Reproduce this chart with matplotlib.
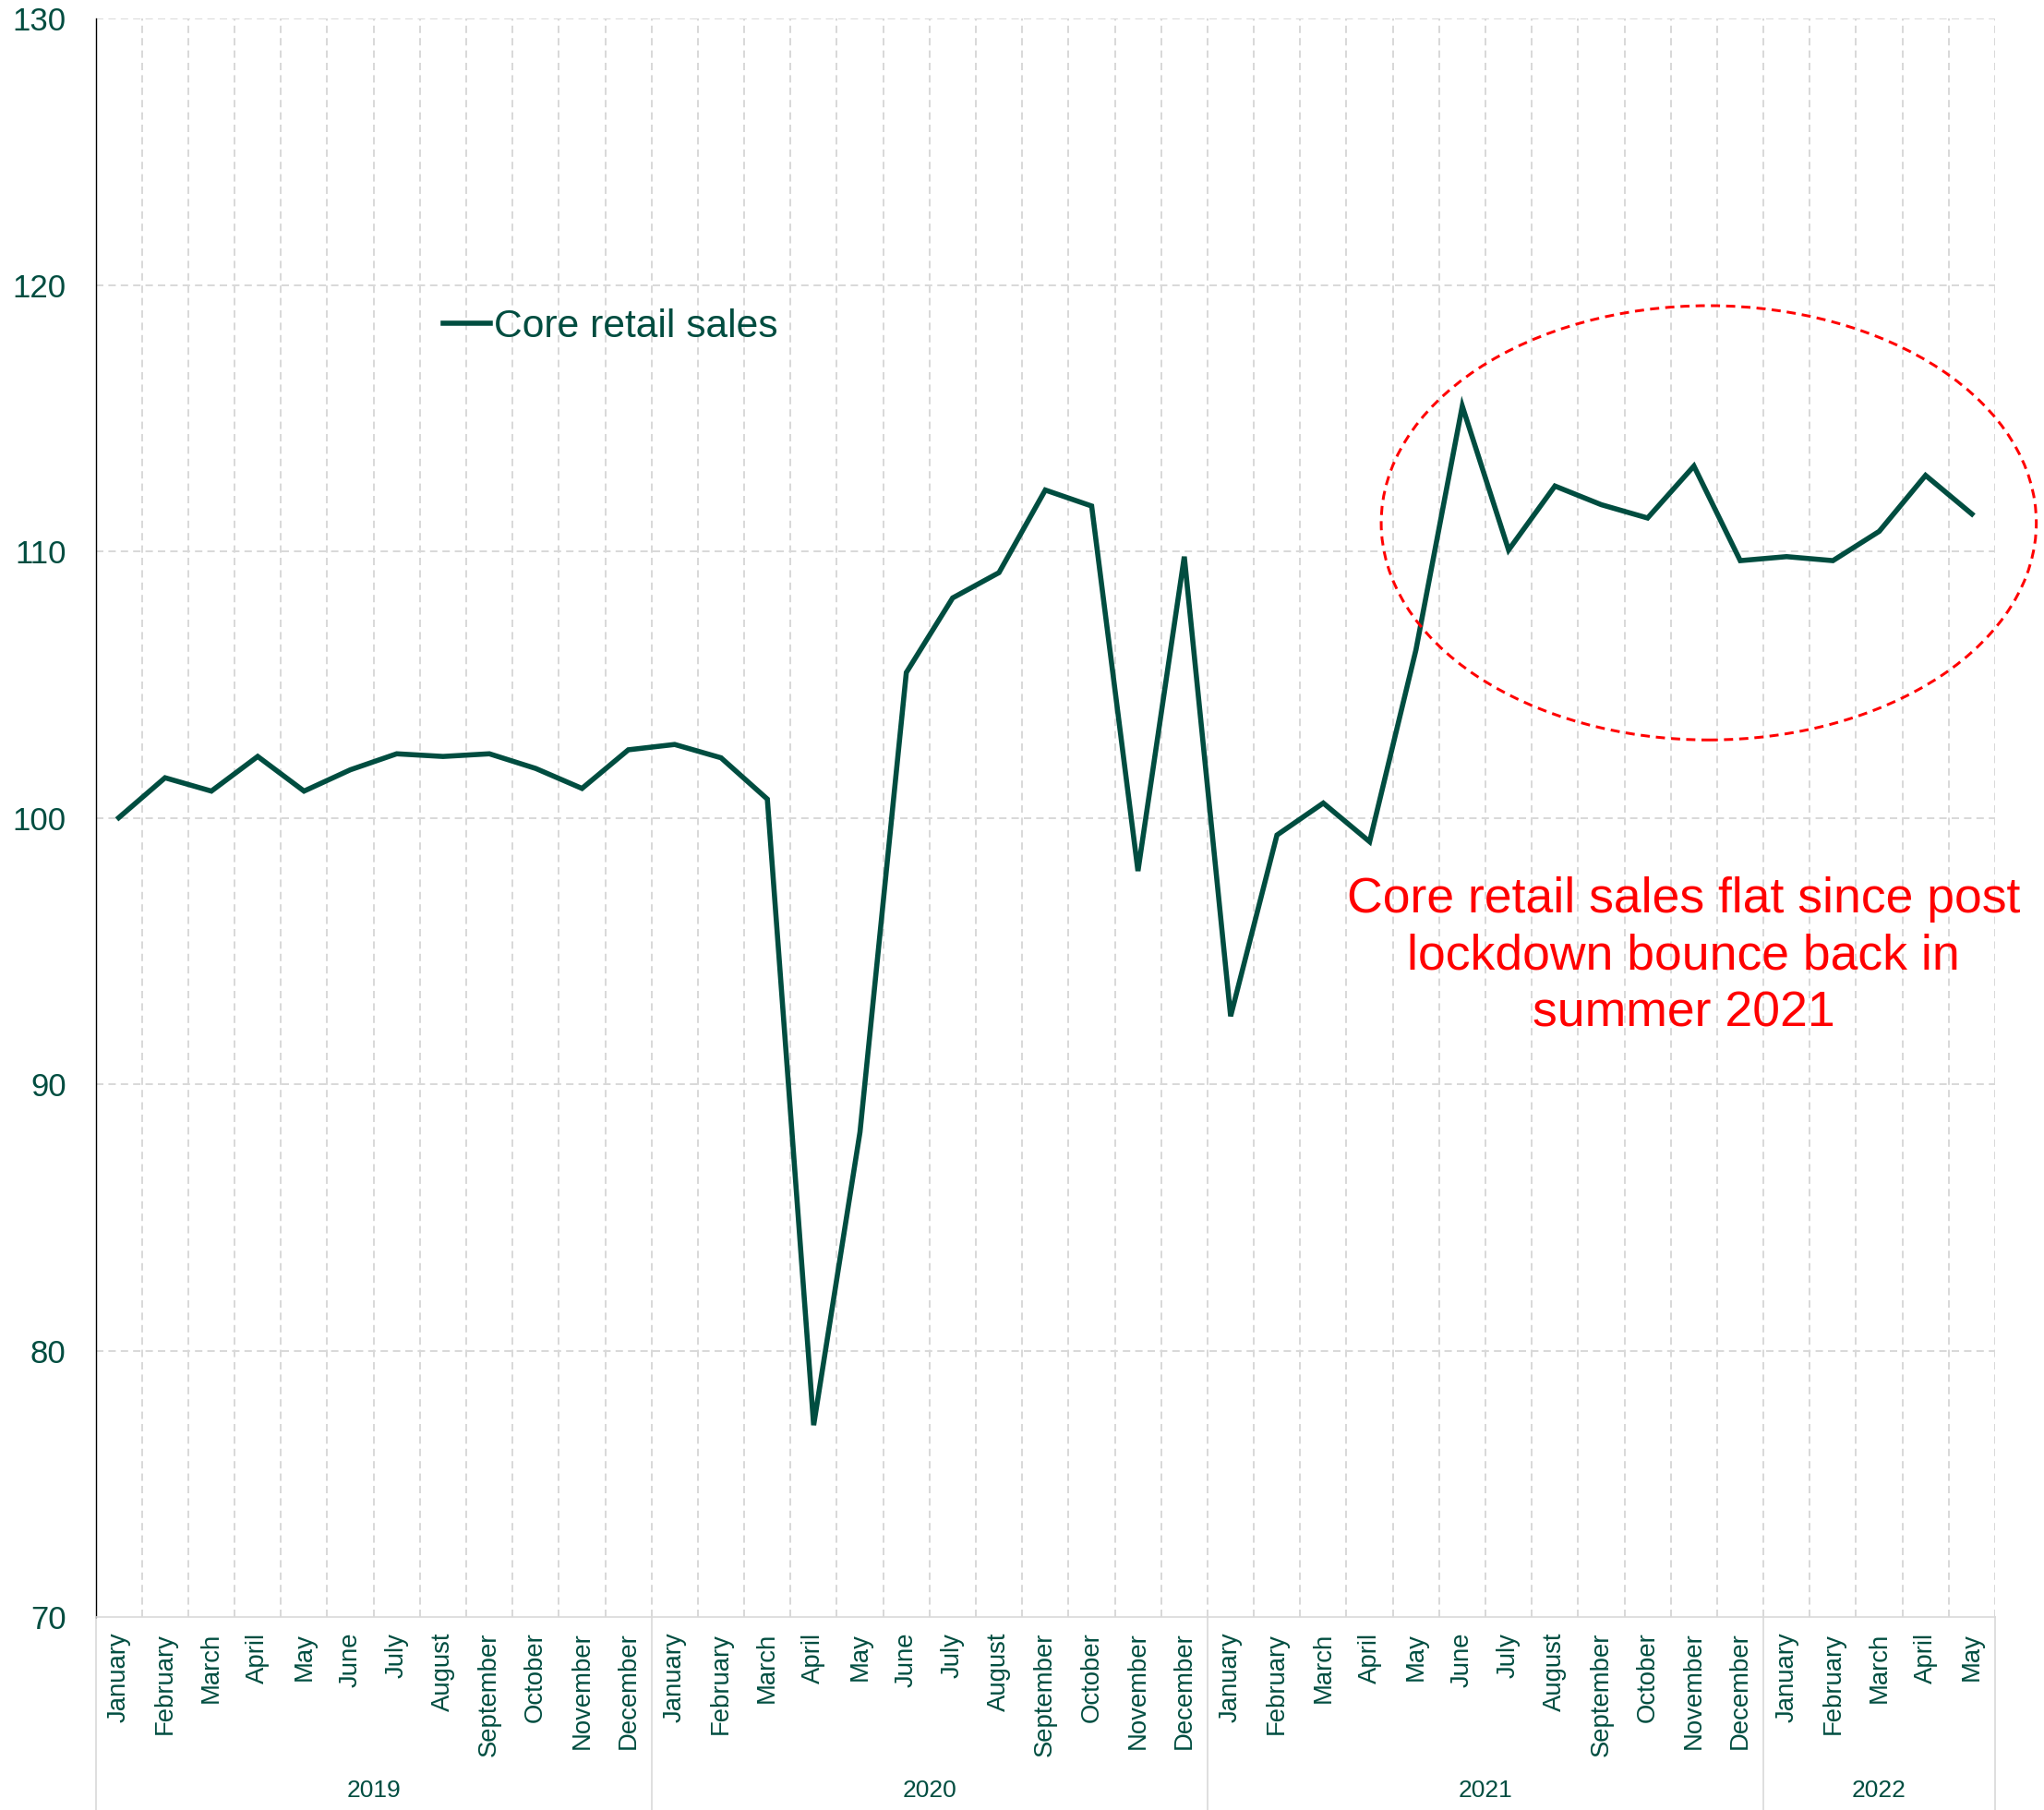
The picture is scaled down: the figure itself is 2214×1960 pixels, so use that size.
import matplotlib
matplotlib.use("Agg")
import matplotlib.pyplot as plt
from matplotlib.patches import Ellipse

plt.rcParams['font.family'] = ['Liberation Sans', 'DejaVu Sans']

# monthly index values, Jan 2019 = 100
values_2019 = [100.0, 101.5, 101.0, 102.3, 101.0, 101.8, 102.4, 102.3, 102.4, 101.85, 101.1, 102.55]
values_2020 = [102.75, 102.25, 100.7, 77.2, 88.2, 105.45, 108.25, 109.2, 112.3, 111.7, 98.0, 109.8]
values_2021 = [92.55, 99.35, 100.55, 99.1, 106.3, 115.45, 110.05, 112.45, 111.75, 111.25, 113.2, 109.65]
values_2022 = [109.8, 109.65, 110.75, 112.85, 111.4]

months = ["January", "February", "March", "April", "May", "June", "July",
          "August", "September", "October", "November", "December"]
years = ["2019", "2020", "2021", "2022"]
months_per_year = [12, 12, 12, 5]
series_name = "Core retail sales"
note = "Core retail sales flat since post\nlockdown bounce back in\nsummer 2021"

values = values_2019 + values_2020 + values_2021 + values_2022
labels = []
for n in months_per_year:
    labels += months[:n]
x = list(range(len(values)))

green = '#004D40'
grid_c = '#D9D9D9'

fig = plt.figure(figsize=(22.14, 19.6), dpi=100)
ax = fig.add_axes([103.5 / 2214, 1 - 1751 / 1960, (2161 - 103.5) / 2214, (1751 - 20) / 1960])

ax.plot(x, values, color=green, lw=4, label=series_name, solid_joinstyle='miter', zorder=3)

ax.set_xlim(-0.5, len(values) - 0.5)
ax.set_ylim(70, 130)
ax.set_yticks(range(70, 131, 10))
ax.set_xticks(x)
ax.set_xticklabels(labels, rotation=90, va='top', ha='center')
ax.tick_params(axis='x', length=0, pad=12, labelsize=19.8, labelcolor=green)
ax.tick_params(axis='y', length=0, pad=23, labelsize=25, labelcolor=green)

# dashed grid: horizontals at the y ticks, verticals between months
for yv in range(80, 131, 10):
    ax.axhline(yv, color=grid_c, lw=1.44, linestyle=(0, (4, 2.7)), zorder=1)
for b in range(1, len(values) + 1):
    ax.axvline(b - 0.5, color=grid_c, lw=1.44, linestyle=(0, (4, 2.7)), zorder=1)

for s in ['top', 'right']:
    ax.spines[s].set_visible(False)
ax.spines['left'].set_color('black')
ax.spines['left'].set_linewidth(1)
ax.spines['bottom'].set_color(grid_c)
ax.spines['bottom'].set_linewidth(1.2)

# year groups under the month labels
tr = ax.get_xaxis_transform()
drop = -(1960 - 1751) / (1751 - 20)
start = 0
edges = [0]
for yr, n in zip(years, months_per_year):
    ax.text(start + n / 2 - 0.5, -(1939 - 1751) / (1751 - 20), yr, transform=tr,
            ha='center', va='center', fontsize=19, color=green)
    start += n
    edges.append(start)
for e in edges:
    ax.plot([e - 0.5, e - 0.5], [0, drop], transform=tr, color=grid_c, lw=1.2, clip_on=False)

# highlight of the flat period
ell = Ellipse((34.32, 111.07), 14.14, 16.3, fill=False, edgecolor='#FF0000', lw=2.16,
              linestyle=(0, (3.3, 2.2)), clip_on=False, zorder=4)
ax.add_patch(ell)
ax.text(33.78, 94.8, note, color='#FF0000', fontsize=38.5, ha='center', va='center',
        linespacing=1.3, zorder=5)

leg = ax.legend(loc='center left', bbox_to_anchor=(480 / 2214, 1 - 354 / 1960),
                bbox_transform=fig.transFigure, frameon=False, fontsize=30.7,
                handlelength=1.2, handletextpad=0.1, borderpad=0, borderaxespad=0)
for t in leg.get_texts():
    t.set_color(green)

fig.savefig('out.png', dpi=100)
